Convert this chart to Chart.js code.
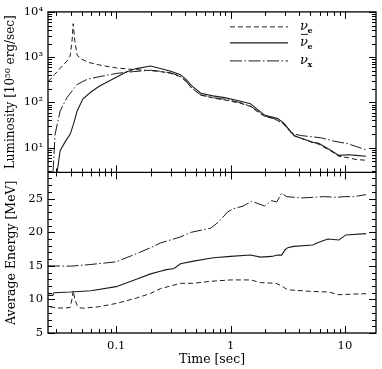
<!DOCTYPE html>
<html>
<head>
<meta charset="utf-8">
<script src="https://cdn.jsdelivr.net/npm/chart.js@4.4.1/dist/chart.umd.min.js"></script>
<style>
  html, body { margin: 0; padding: 0; background: #fff; }
  #wrap { width: 382px; height: 369px; }
</style>
</head>
<body>
<div id="wrap"><canvas id="chart"></canvas></div>
<script>
// ------------------------------------------------------------
// Données (temps en s)
// ------------------------------------------------------------
const timeTicks = [0.1, 1, 10];
const timeTickLabels = ['0.1', '1', '10'];
const lumTicks = [10, 100, 1000, 10000];
const lumTickLabels = ['10¹', '10²', '10³', '10⁴'];
const energyTicks = [5, 10, 15, 20, 25];

const seriesNames = ['νe', 'ν̄e', 'νx'];

// Luminosité [10^50 erg/s]
const lumTimeNuE = [0.0255, 0.029, 0.033, 0.037, 0.0395, 0.0412, 0.042, 0.0435, 0.0455, 0.05, 0.058, 0.07, 0.085, 0.1, 0.13, 0.17, 0.2, 0.243, 0.3, 0.364, 0.41, 0.455, 0.55, 0.7, 0.885, 1.2, 1.49, 1.83, 2.0, 2.3, 2.58, 2.92, 3.3, 3.6, 4.2, 5.2, 5.9, 7.5, 8.85, 10.8, 12.5, 15.3];
const lumNuE = [290, 420, 600, 820, 1050, 2500, 5500, 2200, 1100, 900, 760, 680, 620, 580, 545, 520, 505, 480, 440, 370, 290, 210, 145, 126, 114, 97, 82, 56, 49, 45, 40, 33, 23, 18.5, 16, 13, 12, 8.5, 6.5, 6.0, 5.5, 5.3];

const lumTimeNuEbar = [0.0304, 0.0323, 0.036, 0.0396, 0.0425, 0.0455, 0.051, 0.06, 0.071, 0.085, 0.1, 0.122, 0.15, 0.2, 0.243, 0.3, 0.364, 0.41, 0.455, 0.55, 0.7, 0.885, 1.2, 1.49, 1.83, 2.0, 2.3, 2.58, 2.92, 3.3, 3.6, 4.2, 5.24, 5.9, 7.5, 8.85, 10.8, 12.5, 15.3];
const lumNuEbar = [2.85, 8.6, 14, 20, 35, 65, 119, 170, 228, 290, 360, 470, 560, 640, 560, 490, 412, 320, 235, 160, 140, 128, 108, 94, 62, 52, 48, 44, 35, 24, 18.5, 16, 13.2, 12.5, 8.8, 6.8, 7.0, 6.8, 6.5];

const lumTimeNuX = [0.028, 0.0292, 0.0323, 0.037, 0.0455, 0.0557, 0.0724, 0.0834, 0.102, 0.141, 0.2, 0.243, 0.3, 0.364, 0.41, 0.455, 0.546, 0.7, 0.885, 1.2, 1.49, 1.83, 2.0, 2.3, 2.58, 2.92, 3.3, 3.6, 4.2, 6.16, 8.0, 10.6, 15.3];
const lumNuX = [2.85, 20, 65, 127, 250, 325, 375, 400, 440, 480, 515, 490, 450, 380, 290, 210, 148, 128, 118, 100, 84, 58, 50, 46, 40, 34, 24, 20, 18.5, 16.6, 14, 12.3, 9.0];

// Energie moyenne [MeV]
const enTimeNuE = [0.0264, 0.03, 0.035, 0.0395, 0.0412, 0.042, 0.0435, 0.0455, 0.048, 0.052, 0.07, 0.1, 0.15, 0.2, 0.243, 0.3, 0.364, 0.474, 0.67, 1.0, 1.5, 1.83, 2.5, 2.8, 3.1, 3.36, 5.0, 7.2, 8.85, 12, 15.3];
const enNuE = [8.9, 8.75, 8.7, 8.8, 10.2, 11.3, 10.0, 9.1, 8.75, 8.7, 8.9, 9.4, 10.2, 10.9, 11.6, 12.0, 12.4, 12.4, 12.7, 12.9, 12.9, 12.5, 12.4, 12.0, 11.5, 11.4, 11.2, 11.1, 10.7, 10.8, 10.85];

const enTimeNuEbar = [0.0253, 0.0278, 0.0285, 0.04, 0.06, 0.1, 0.15, 0.2, 0.243, 0.269, 0.32, 0.364, 0.474, 0.709, 1.0, 1.49, 1.83, 2.29, 2.58, 2.8, 3.0, 3.16, 3.57, 5.24, 5.91, 7.1, 8.85, 10.2, 15.3];
const enNuEbar = [10.6, 10.6, 11.0, 11.1, 11.3, 11.9, 13.0, 13.8, 14.2, 14.4, 14.6, 15.3, 15.7, 16.2, 16.4, 16.6, 16.3, 16.4, 16.6, 16.6, 17.4, 17.7, 17.9, 18.1, 18.5, 19.0, 18.85, 19.6, 19.8];

const enTimeNuX = [0.0253, 0.04, 0.06, 0.1, 0.15, 0.2, 0.243, 0.364, 0.455, 0.668, 0.782, 0.94, 1.06, 1.29, 1.53, 1.99, 2.29, 2.53, 2.8, 3.1, 4.2, 6.6, 8.5, 10, 12, 15.3];
const enNuX = [15.0, 14.95, 15.2, 15.6, 16.8, 17.7, 18.4, 19.3, 20.0, 20.6, 21.5, 23.0, 23.5, 23.9, 24.6, 23.9, 24.7, 24.5, 25.8, 25.3, 25.1, 25.3, 25.2, 25.3, 25.3, 25.6];

// ------------------------------------------------------------
// Styles
// ------------------------------------------------------------
const ink = '#1c1c1c';
const serif = "'DejaVu Serif', serif";
const dashNuE = [5, 3];
const dashNuX = [12, 2.5, 1.5, 2.5];
const MAJOR = 7, MINOR = 4;

const pts = (ts, vs) => ts.map((t, i) => ({ x: t, y: vs[i] }));

function line(label, ts, vs, axis, dash, width) {
    return {
        label: label,
        data: pts(ts, vs),
        yAxisID: axis,
        borderColor: ink,
        borderWidth: width,
        borderDash: dash,
        pointRadius: 0,
        tension: 0,
        fill: false
    };
}

// graduations logarithmiques 1..9 x 10^n dans [min, max]
function logSteps(min, max) {
    const out = [];
    for (let e = Math.floor(Math.log10(min)); e <= Math.ceil(Math.log10(max)); e++) {
        for (let k = 1; k <= 9; k++) {
            const v = k * Math.pow(10, e);
            if (v >= min * 0.999 && v <= max * 1.001) out.push({ v: v, major: k === 1 });
        }
    }
    return out;
}

// Cadre + graduations intérieures + légende
const frameTicks = {
    id: 'frameTicks',
    afterDatasetsDraw(chart) {
        const { ctx, chartArea: a } = chart;
        const sx = chart.scales.x, sl = chart.scales.yLum, se = chart.scales.yEn;
        const L = a.left, R = a.right, top = sl.top, mid = sl.bottom, bot = se.bottom;
        const seg = (x1, y1, x2, y2) => { ctx.moveTo(x1, y1); ctx.lineTo(x2, y2); };

        ctx.save();
        ctx.strokeStyle = '#000';
        ctx.lineWidth = 1;
        ctx.beginPath();
        for (const t of logSteps(sx.min, sx.max)) {
            const px = Math.round(sx.getPixelForValue(t.v)) + 0.5;
            const len = t.major ? MAJOR : MINOR;
            seg(px, top, px, top + len);
            seg(px, mid - len, px, mid + len);
            seg(px, bot, px, bot - len);
        }
        for (const t of logSteps(sl.min, sl.max)) {
            const py = Math.round(sl.getPixelForValue(t.v)) + 0.5;
            const len = t.major ? MAJOR : MINOR;
            seg(L, py, L + len, py);
            seg(R, py, R - len, py);
        }
        for (let v = Math.ceil(se.min); v <= se.max; v++) {
            const py = Math.round(se.getPixelForValue(v)) + 0.5;
            const len = v % 5 === 0 ? MAJOR : MINOR;
            seg(L, py, L + len, py);
            seg(R, py, R - len, py);
        }
        ctx.stroke();

        ctx.lineWidth = 1.3;
        ctx.strokeRect(L, top, R - L, bot - top);
        ctx.beginPath();
        seg(L, mid, R, mid);
        ctx.stroke();

        // légende
        const rowsY = [top + 15, top + 31, top + 49];
        chart.data.datasets.slice(0, 3).forEach((ds, i) => {
            const y = rowsY[i];
            ctx.lineWidth = ds.borderWidth;
            ctx.strokeStyle = ink;
            ctx.setLineDash(ds.borderDash || []);
            ctx.beginPath();
            seg(R - 146, y, R - 88, y);
            ctx.stroke();
            ctx.setLineDash([]);

            const tx = R - 76;
            ctx.fillStyle = '#000';
            ctx.textBaseline = 'alphabetic';
            ctx.font = "italic 13px " + serif;
            ctx.fillText('ν', tx, y + 3);
            if (i === 1) {
                ctx.lineWidth = 1;
                ctx.beginPath();
                seg(tx + 1, y - 8.5, tx + 8, y - 8.5);
                ctx.stroke();
            }
            ctx.font = "bold 8px " + serif;
            ctx.fillText(ds.label.slice(-1), tx + 7.5, y + 6);
        });
        ctx.restore();
    }
};

const tickFont = { family: serif, size: 11.5 };
const titleFont = { family: serif, size: 12.5 };

new Chart(document.getElementById('chart'), {
    type: 'line',
    data: {
        datasets: [
            line(seriesNames[0], lumTimeNuE, lumNuE, 'yLum', dashNuE, 1),
            line(seriesNames[1], lumTimeNuEbar, lumNuEbar, 'yLum', [], 1.1),
            line(seriesNames[2], lumTimeNuX, lumNuX, 'yLum', dashNuX, 1),
            line(seriesNames[0], enTimeNuE, enNuE, 'yEn', dashNuE, 1),
            line(seriesNames[1], enTimeNuEbar, enNuEbar, 'yEn', [], 1.1),
            line(seriesNames[2], enTimeNuX, enNuX, 'yEn', dashNuX, 1)
        ]
    },
    options: {
        responsive: true,
        maintainAspectRatio: false,
        animation: false,
        layout: { padding: { top: 10, right: 6, left: 0, bottom: 0 } },
        plugins: { legend: { display: false }, tooltip: { enabled: false } },
        scales: {
            x: {
                type: 'logarithmic',
                position: 'bottom',
                min: 0.0253,
                max: 18.7,
                afterBuildTicks: s => { s.ticks = timeTicks.map(v => ({ value: v })); },
                afterFit: s => { s.height = 36; },
                grid: { display: false, drawTicks: false },
                border: { display: false },
                ticks: {
                    autoSkip: false, maxRotation: 0, padding: 6, color: '#000', font: tickFont,
                    callback: v => timeTickLabels[timeTicks.indexOf(v)]
                },
                title: { display: true, text: 'Time [sec]', color: '#000', font: titleFont, padding: { top: 0, bottom: 2 } }
            },
            // panneau du bas déclaré en premier : la pile gauche est placée en ordre inverse
            yEn: {
                type: 'linear',
                position: 'left',
                stack: 'panels',
                stackWeight: 1,
                min: 5,
                max: 28.9,
                afterBuildTicks: s => { s.ticks = energyTicks.map(v => ({ value: v })); },
                afterFit: s => { s.width = 48; },
                grid: { display: false, drawTicks: false },
                border: { display: false },
                ticks: { autoSkip: false, padding: 5, color: '#000', font: tickFont },
                title: { display: true, text: 'Average Energy [MeV]', color: '#000', font: titleFont, padding: { top: 4, bottom: 0 } }
            },
            yLum: {
                type: 'logarithmic',
                position: 'left',
                stack: 'panels',
                stackWeight: 1,
                min: 2.85,
                max: 10000,
                afterBuildTicks: s => { s.ticks = lumTicks.map(v => ({ value: v })); },
                afterFit: s => { s.width = 48; },
                grid: { display: false, drawTicks: false },
                border: { display: false },
                ticks: {
                    autoSkip: false, padding: 5, color: '#000', font: tickFont,
                    callback: v => lumTickLabels[lumTicks.indexOf(v)]
                },
                title: { display: true, text: 'Luminosity [10⁵⁰ erg/sec]', color: '#000', font: { family: serif, size: 12 }, padding: { top: 4, bottom: 0 } }
            }
        }
    },
    plugins: [frameTicks]
});
</script>
</body>
</html>
